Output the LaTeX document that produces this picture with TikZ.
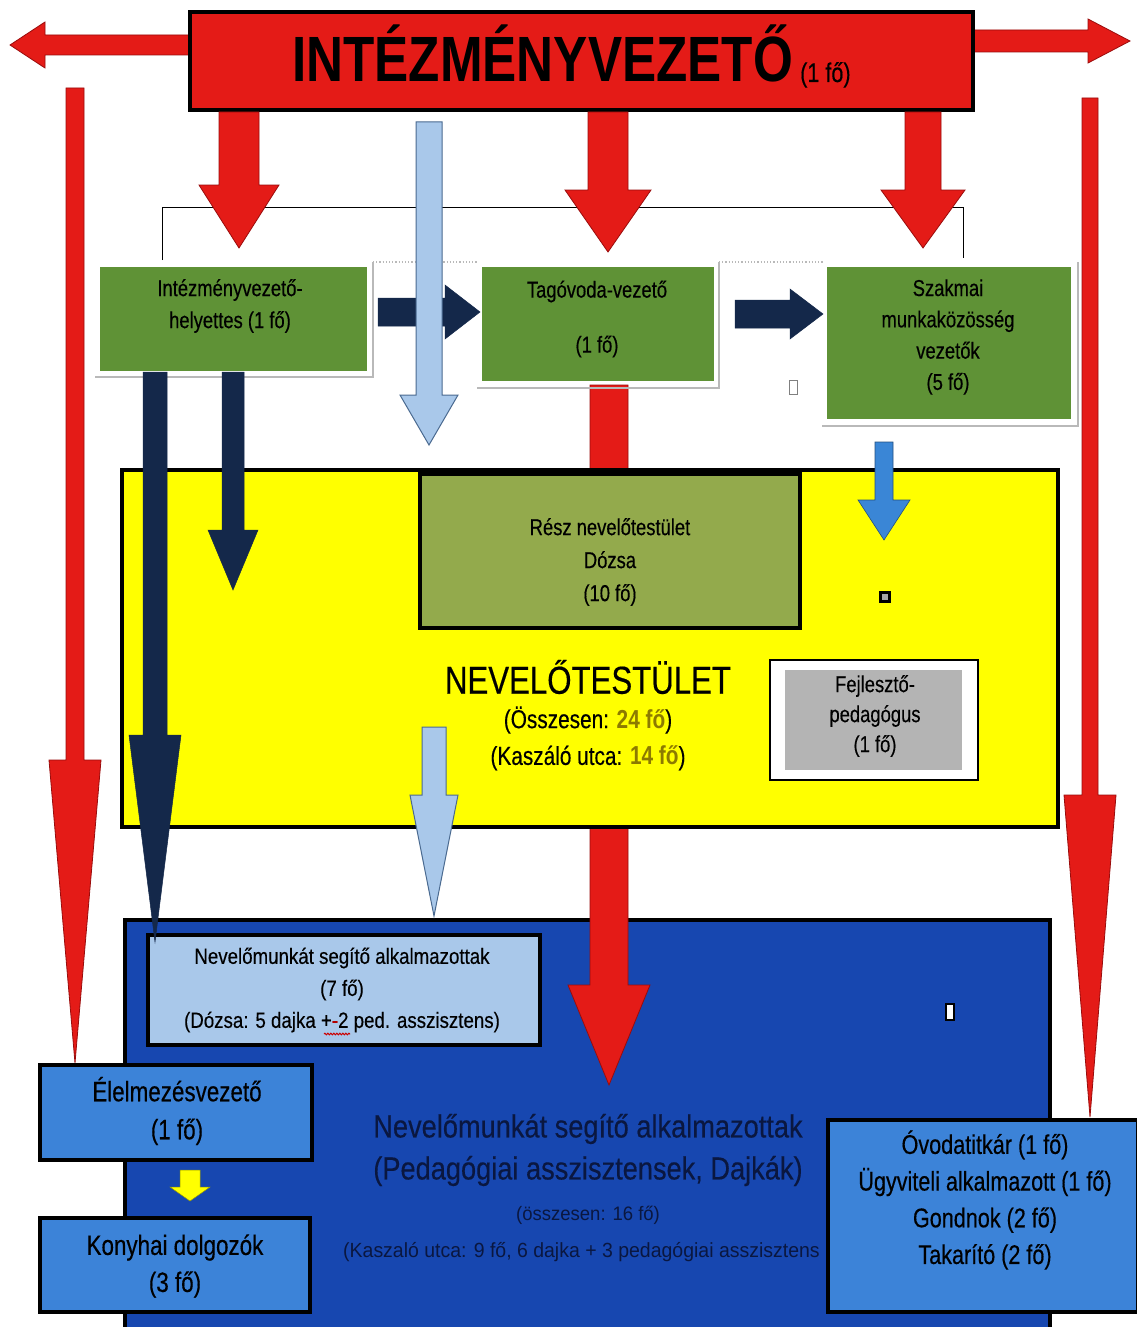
\documentclass[tikz,border=0pt]{standalone}
\usepackage{fontspec}
\usetikzlibrary{decorations.pathmorphing}
\setmainfont{Liberation Sans}[FakeStretch=0.8,UprightFeatures={FakeBold=0.35}]
\newfontfamily\midfont{Liberation Sans}[FakeStretch=0.85,UprightFeatures={FakeBold=0.3}]
\newfontfamily\plainfont{Liberation Sans}[FakeStretch=0.95]
\definecolor{redA}{HTML}{E41B17}
\definecolor{redLine}{HTML}{9A0C0C}
\definecolor{greenG}{HTML}{5F9236}
\definecolor{greenR}{HTML}{93AA4C}
\definecolor{navy}{HTML}{14284A}
\definecolor{lblue}{HTML}{A9C8EA}
\definecolor{lblueLine}{HTML}{4A6A90}
\definecolor{mblue}{HTML}{3A86D6}
\definecolor{yel}{HTML}{FFFF00}
\definecolor{bigblue}{HTML}{1747B0}
\definecolor{boxblue}{HTML}{3C83D8}
\definecolor{grayF}{HTML}{B4B4B4}
\definecolor{gold}{HTML}{8C7A00}
\definecolor{textnavy}{HTML}{0A1740}
\newcommand{\fsz}[2]{\fontsize{#1}{#2}\selectfont}
% vertical block arrow: style, cx, ytop, yheadbase, ytip, shaft half width, head half width
\newcommand{\blkdown}[7]{\path[#1] ({#2-#6},#3) -- ({#2+#6},#3) -- ({#2+#6},#4) -- ({#2+#7},#4) -- (#2,#5) -- ({#2-#7},#4) -- ({#2-#6},#4) -- cycle;}
% horizontal block arrow: style, cy, xstart, xheadbase, xtip, shaft half width, head half width
\newcommand{\blkright}[7]{\path[#1] (#3,{#2-#6}) -- (#3,{#2+#6}) -- (#4,{#2+#6}) -- (#4,{#2+#7}) -- (#5,#2) -- (#4,{#2-#7}) -- (#4,{#2-#6}) -- cycle;}
\begin{document}
\begin{tikzpicture}[x=1pt,y=-1pt,
  redarr/.style={fill=redA,draw=redLine,line width=0.8pt},
  navyarr/.style={fill=navy,draw=navy,line width=0.5pt},
  lbarr/.style={fill=lblue,draw=lblueLine,line width=1pt},
  mbarr/.style={fill=mblue,draw=mblue!60!black,line width=0.6pt},
  yarr/.style={fill=yel,draw=yel!60!black,line width=0.5pt},
  gbox/.style={fill=greenG,draw=white,line width=3pt,inner sep=0pt},
  bbox/.style={fill=boxblue,draw=black,line width=4pt,inner sep=0pt},
  txt/.style={align=center,inner sep=0pt,text=black},
  shadowline/.style={draw=gray!55,line width=2.5pt}
]
\useasboundingbox[fill=white] (0,0) rectangle (1136,1327);

% side arrows from title
\blkright{redarr}{45}{195}{45}{10}{10}{23}
\blkright{redarr}{41}{968}{1088}{1130}{11}{22}

% long vertical red arrows
\blkdown{redarr}{75}{88}{760}{1063}{9}{26}
\blkdown{redarr}{1090}{98}{795}{1117}{8}{26}

% title box
\node[fill=redA,draw=black,line width=4pt,minimum width=783pt,minimum height=98pt,inner sep=0pt] (title) at (581.5,61) {};
\node[txt,anchor=base west,font={\fsz{64}{64}\bfseries}] (titletxt) at (292,82) {INTÉZMÉNYVEZETŐ};
\node[txt,anchor=base west,font={\fsz{27}{27}}] (titlen) at (800,82) {(1 fő)};

% bracket line
\draw[black,line width=1pt] (162,260) -- (162,207) -- (963,207) -- (963,258);

% red arrows from title down
\blkdown{redarr}{239}{112}{185}{248}{20}{40}
\blkdown{redarr}{608}{112}{190}{252}{20}{43}
\blkdown{redarr}{923}{112}{190}{248}{18}{42}

% big blue bottom box
\node[fill=bigblue,draw=black,line width=4pt,minimum width=925pt,minimum height=420pt,inner sep=0pt] (bottom) at (587.5,1130) {};

% red arrow from Tagovoda down (behind yellow box)
\blkdown{redarr}{609}{385}{985}{1085}{19}{41}

% yellow box
\node[fill=yel,draw=black,line width=4pt,minimum width=936pt,minimum height=357pt,inner sep=0pt] (yellow) at (590,648.5) {};

% green boxes
\draw[shadowline] (95,377) -- (373,377) -- (373,262);
\draw[shadowline] (477,388) -- (719,388) -- (719,262);
\draw[shadowline] (822,426) -- (1078,426) -- (1078,262);
\draw[gray!55,dotted,line width=1.2pt] (373,262) -- (478,262);
\draw[gray!55,dotted,line width=1.2pt] (719,262) -- (824,262);
\node[gbox,minimum width=270pt,minimum height=107pt] (g1) at (233,318.5) {};
\node[gbox,minimum width=235pt,minimum height=117pt] (g2) at (597.5,323.5) {};
\node[gbox,minimum width=247pt,minimum height=155pt] (g3) at (948.5,342.5) {};
\node[txt,font={\fsz{23}{32}}] (g1t) at (230,306) {Intézményvezető-\\helyettes (1 fő)};
\node[txt,font={\fsz{23}{32}}] (g2t) at (597,319) {Tagóvoda-vezető\\[23pt](1 fő)};
\node[txt,font={\fsz{23}{31.3}}] (g3t) at (948,337) {Szakmai\\munkaközösség\\vezetők\\(5 fő)};

% navy right arrows
\blkright{navyarr}{312}{378}{445}{480}{14}{27}
\blkright{navyarr}{314}{735}{790}{823}{14}{25}

% light blue long arrow
\blkdown{lbarr}{429}{122}{395}{445}{13}{29}

% small artefact mark
\node[draw=gray,fill=white,line width=0.8pt,minimum width=8pt,minimum height=14pt,inner sep=0pt] (mark1) at (793,387) {};

% blue arrow from Szakmai
\blkdown{mbarr}{884}{442}{500}{540}{9}{26}

% Resz box
\node[fill=greenR,draw=black,line width=4pt,minimum width=380pt,minimum height=154pt,inner sep=0pt] (resz) at (610,551) {};
\node[txt,font={\fsz{23}{33}}] (reszt) at (610,562) {Rész nevelőtestület\\Dózsa\\(10 fő)};

\node[draw=black,fill=gray!70,line width=2.5pt,minimum width=9pt,minimum height=9pt,inner sep=0pt] (mark2) at (885,597) {};

% Nevelotestulet texts
\node[txt,font={\fsz{39}{39}}] (nev) at (588,677) {NEVELŐTESTÜLET};
\node[txt,font={\fsz{26}{26}}] (nevo) at (588,720) {(Összesen: {\bfseries\color{gold}24 fő})};
\node[txt,font={\fsz{26}{26}}] (nevk) at (588,758) {(Kaszáló utca: {\bfseries\color{gold}14 fő})};

% Fejleszto box
\node[fill=white,draw=black,line width=1.5pt,minimum width=208pt,minimum height=120pt,inner sep=0pt] (fejo) at (874,720) {};
\node[fill=grayF,minimum width=177pt,minimum height=100pt,inner sep=0pt] (fej) at (873.5,720) {};
\node[txt,font={\fsz{23}{30}}] (fejt) at (875,716) {Fejlesztő-\\pedagógus\\(1 fő)};

% light blue inner box in bottom
\node[fill=lblue,draw=black,line width=4pt,minimum width=392pt,minimum height=110pt,inner sep=0pt] (seg7) at (344,990) {};
\node[txt,font={\midfont\fsz{22}{32}}] (seg7t) at (342,990) {Nevelőmunkát segítő alkalmazottak\\(7 fő)\\(Dózsa: 5 dajka +\textcolor{red!70!black}{-}2 ped. asszisztens)};
\draw[red!80!black,line width=1pt,decorate,decoration={snake,amplitude=0.8pt,segment length=3pt}] (324,1034) -- (350,1034);

% light blue arrow inside yellow box
\blkdown{lbarr}{434}{727}{795}{916}{12}{24}

% navy down arrows from helyettes
\blkdown{navyarr}{233}{372}{530}{590}{11}{25}
\blkdown{navyarr}{155}{372}{735}{942}{12}{26}

% bottom texts
\node[txt,text=textnavy,font={\midfont\fsz{32}{42}}] (bt1) at (588,1150) {Nevelőmunkát segítő alkalmazottak\\(Pedagógiai asszisztensek, Dajkák)};
\node[txt,text=textnavy,font={\plainfont\fsz{19.5}{19.5}}] (bt2) at (588,1215) {(összesen: 16 fő)};
\node[txt,text=textnavy,anchor=west,font={\plainfont\fsz{20.5}{20.5}}] (bt3) at (343,1252) {(Kaszaló utca: 9 fő, 6 dajka + 3 pedagógiai asszisztens};

\node[draw=black,fill=white,line width=2.5pt,minimum width=8pt,minimum height=16pt,inner sep=0pt] (mark3) at (950,1012) {};

% left boxes
\node[bbox,minimum width=272pt,minimum height=95pt] (elel) at (176,1112.5) {};
\node[txt,font={\fsz{28}{38}}] (elelt) at (177,1111) {Élelmezésvezető\\(1 fő)};
\blkdown{yarr}{190}{1170}{1187}{1201}{10}{20}
\node[bbox,minimum width=270pt,minimum height=94pt] (kony) at (175,1265) {};
\node[txt,font={\fsz{28}{37}}] (konyt) at (175,1266) {Konyhai dolgozók\\(3 fő)};

% right box
\node[bbox,minimum width=310pt,minimum height=192pt] (jobb) at (983,1216) {};
\node[txt,font={\fsz{27}{36.7}}] (jobbt) at (985,1200) {Óvodatitkár (1 fő)\\Ügyviteli alkalmazott (1 fő)\\Gondnok (2 fő)\\Takarító (2 fő)};
\end{tikzpicture}
\end{document}
